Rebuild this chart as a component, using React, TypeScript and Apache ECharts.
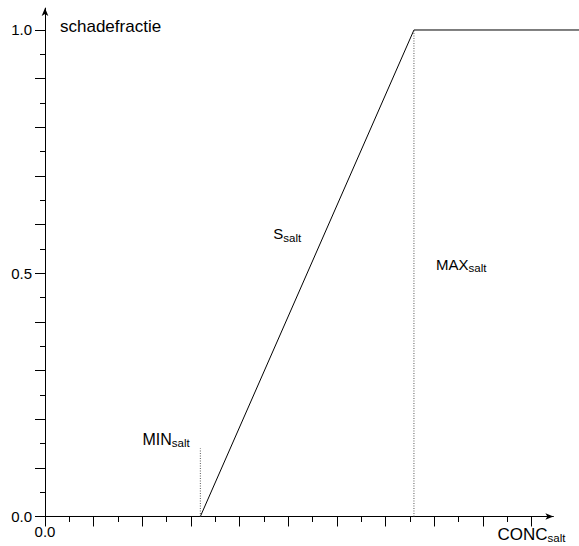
import React, { useEffect, useRef } from "react";
import * as echarts from "echarts";

// ---- data ----
const MIN_SALT = 0.32;
const MAX_SALT = 0.76;
const X_END = 1.1;
const curveX = [0, MIN_SALT, MAX_SALT, X_END];
const curveY = [0, 0, 1, 1];
const minMarkerY = [0, 0.14];
const maxMarkerY = [0, 1];
const majorTicks = [0, 0.1, 0.2, 0.3, 0.4, 0.5, 0.6, 0.7, 0.8, 0.9, 1.0];
const minorTicks = [0.05, 0.15, 0.25, 0.35, 0.45, 0.55, 0.65, 0.75, 0.85, 0.95];
const yLabelValues = [0, 0.5, 1.0];
const xLabelValues = [0, 1.0];
const xLabelTexts = ["0.0", "{b|CONC}{s|salt}"];
const yAxisTitle = "schadefractie";

const FONT = "'Liberation Sans', Arial, Helvetica, sans-serif";

const mkRich = (size: number) => ({
  b: { fontSize: size, lineHeight: 20, fontFamily: FONT, color: "#000" },
  s: { fontSize: 11.5, lineHeight: 12, verticalAlign: "bottom", fontFamily: FONT, color: "#000" },
});

export default function App() {
  const ref = useRef<HTMLDivElement>(null);
  useEffect(() => {
    document.body.style.margin = "0";
    const chart = echarts.init(ref.current!, undefined, { renderer: "svg" });
    const AX_MAX = 1.045;
    const UNIT = 486.5;
    const baseAxis = {
      type: "value",
      min: 0,
      max: AX_MAX,
      splitLine: { show: false },
    };
    const hiddenAxis = {
      type: "value",
      min: 0,
      show: false,
      splitLine: { show: false },
    };
    chart.setOption({
      animation: false,
      backgroundColor: "#fff",
      grid: [
        { left: 45, top: 8.1, width: AX_MAX * UNIT, height: AX_MAX * UNIT },
        { left: 45, top: 8.1, width: X_END * UNIT, height: AX_MAX * UNIT },
      ],
      xAxis: [
        {
          ...baseAxis,
          gridIndex: 0,
          position: "bottom",
          axisLine: {
            show: true,
            onZero: false,
            lineStyle: { color: "#000", width: 1 },
            symbol: ["none", "arrow"],
            symbolSize: [5, 8],
          },
          axisTick: {
            show: true,
            length: 10,
            customValues: majorTicks,
            lineStyle: { color: "#000", width: 1 },
          },
          axisLabel: {
            show: true,
            customValues: xLabelValues,
            margin: 8,
            color: "#000",
            fontSize: 15,
            fontFamily: FONT,
            formatter: (v: number) => xLabelTexts[xLabelValues.indexOf(v)] ?? "",
            rich: mkRich(17),
          },
        },
        {
          ...baseAxis,
          gridIndex: 0,
          position: "bottom",
          axisLine: { show: false, onZero: false },
          axisTick: {
            show: true,
            length: 5.5,
            customValues: minorTicks,
            lineStyle: { color: "#000", width: 1 },
          },
          axisLabel: { show: false },
        },
        { ...hiddenAxis, gridIndex: 1, max: X_END },
      ],
      yAxis: [
        {
          ...baseAxis,
          gridIndex: 0,
          position: "left",
          axisLine: {
            show: true,
            onZero: false,
            lineStyle: { color: "#000", width: 1 },
            symbol: ["none", "arrow"],
            symbolSize: [5, 8],
          },
          axisTick: {
            show: true,
            length: 10,
            customValues: majorTicks,
            lineStyle: { color: "#000", width: 1 },
          },
          axisLabel: {
            show: true,
            customValues: yLabelValues,
            margin: 13,
            color: "#000",
            fontSize: 15,
            fontFamily: FONT,
            formatter: (v: number) => v.toFixed(1),
          },
        },
        {
          ...baseAxis,
          gridIndex: 0,
          position: "left",
          axisLine: { show: false, onZero: false },
          axisTick: {
            show: true,
            length: 5,
            customValues: minorTicks,
            lineStyle: { color: "#000", width: 1 },
          },
          axisLabel: { show: false },
        },
        { ...hiddenAxis, gridIndex: 1, max: AX_MAX },
      ],
      series: [
        {
          type: "line",
          xAxisIndex: 2,
          yAxisIndex: 2,
          symbol: "none",
          data: curveX.map((x, i) => [x, curveY[i]]),
          lineStyle: { color: "#000", width: 1 },
        },
        {
          type: "line",
          xAxisIndex: 2,
          yAxisIndex: 2,
          symbol: "none",
          data: minMarkerY.map((y) => [MIN_SALT, y]),
          lineStyle: { color: "#555", width: 1, type: [1, 1.5] },
        },
        {
          type: "line",
          xAxisIndex: 2,
          yAxisIndex: 2,
          symbol: "none",
          data: maxMarkerY.map((y) => [MAX_SALT, y]),
          lineStyle: { color: "#555", width: 1, type: [1, 1.5] },
        },
      ],
      graphic: [
        {
          type: "text",
          x: 60,
          y: 26,
          style: {
            text: yAxisTitle,
            font: `17px ${FONT}`,
            fill: "#000",
            verticalAlign: "middle",
          },
        },
        {
          type: "text",
          x: 142.5,
          y: 429,
          style: { text: "{b|MIN}{s|salt}", rich: mkRich(16), verticalAlign: "top", fill: "#000" },
        },
        {
          type: "text",
          x: 273.3,
          y: 223.8,
          style: { text: "{b|S}{s|salt}", rich: mkRich(15), verticalAlign: "top", fill: "#000" },
        },
        {
          type: "text",
          x: 436,
          y: 254,
          style: { text: "{b|MAX}{s|salt}", rich: mkRich(15), verticalAlign: "top", fill: "#000" },
        },
      ],
    });
    return () => chart.dispose();
  }, []);
  return <div ref={ref} style={{ width: 579, height: 546 }} />;
}
